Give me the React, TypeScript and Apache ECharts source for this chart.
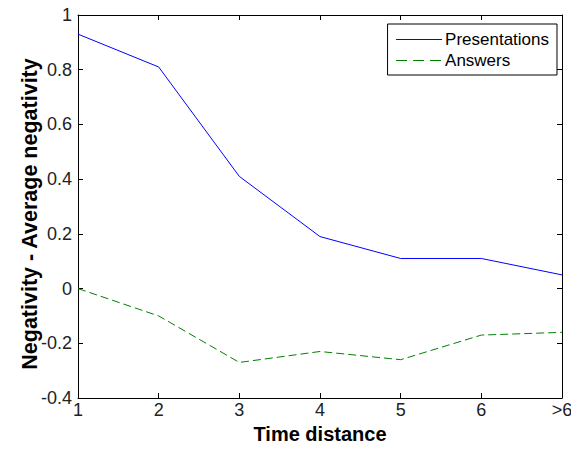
import React, { useEffect, useRef } from "react";
import * as echarts from "echarts";

const categories = ["1", "2", "3", "4", "5", "6", ">6"];
const presentations = [0.93, 0.81, 0.41, 0.19, 0.11, 0.11, 0.05];
const answers = [0.0, -0.1, -0.27, -0.23, -0.26, -0.17, -0.16];
const yTicks = { min: -0.4, max: 1, interval: 0.2 };

const blue = "#0000ff";
const green = "#008000";

export default function App() {
  const ref = useRef<HTMLDivElement>(null);
  useEffect(() => {
    const chart = echarts.init(ref.current!, null, { renderer: "svg" });
    const font = "Liberation Sans, Arial, sans-serif";
    const axisLine = { show: true, onZero: false, lineStyle: { color: "#000", width: 1 } };
    const tick = { show: true, inside: true, length: 5, lineStyle: { color: "#000" } };
    const labelColor = "#222";
    chart.setOption({
      animation: false,
      backgroundColor: "#fff",
      grid: { left: 78, top: 15, right: 17, bottom: 52, containLabel: false },
      legend: {
        right: 22,
        top: 24,
        orient: "vertical",
        itemWidth: 46,
        itemHeight: 14,
        itemGap: 4,
        padding: [7, 8, 6, 8],
        borderColor: "#000",
        borderWidth: 1,
        borderRadius: 0,
        backgroundColor: "#fff",
        itemStyle: { opacity: 0 },
        textStyle: { fontFamily: font, fontSize: 17, color: "#000", padding: [0, 0, 0, -2] },
        data: [
          { name: "Presentations", lineStyle: { color: blue, width: 1 } },
          { name: "Answers", lineStyle: { color: green, width: 1, type: [11, 6] } },
        ],
      },
      xAxis: [
        {
          type: "category",
          data: categories,
          boundaryGap: false,
          axisLine,
          axisTick: { ...tick, alignWithLabel: true },
          axisLabel: { fontFamily: font, fontSize: 18, color: labelColor, margin: 3 },
          splitLine: { show: false },
          name: "Time distance",
          nameLocation: "middle",
          nameGap: 26,
          nameMoveOverlap: false,
          nameTextStyle: { fontFamily: font, fontSize: 20, fontWeight: "bold", color: "#000" },
        },
        {
          type: "category",
          data: categories,
          position: "top",
          boundaryGap: false,
          axisLine,
          axisTick: tick,
          axisLabel: { show: false },
        },
      ],
      yAxis: [
        {
          type: "value",
          min: yTicks.min,
          max: yTicks.max,
          interval: yTicks.interval,
          axisLine,
          axisTick: tick,
          splitLine: { show: false },
          axisLabel: {
            fontFamily: font,
            fontSize: 18,
            color: labelColor,
            margin: 6,
            formatter: (v: number) => String(Math.round(v * 10) / 10),
          },
          name: "Negativity - Average negativity",
          nameLocation: "middle",
          nameGap: 37,
          nameMoveOverlap: false,
          nameTextStyle: {
            fontFamily: font,
            fontSize: 21.5,
            fontWeight: "bold",
            color: "#000",
            padding: [0, 15, 0, 0],
          },
        },
        {
          type: "value",
          position: "right",
          min: yTicks.min,
          max: yTicks.max,
          interval: yTicks.interval,
          axisLine,
          axisTick: tick,
          splitLine: { show: false },
          axisLabel: { show: false },
        },
      ],
      series: [
        {
          name: "Presentations",
          type: "line",
          data: presentations,
          symbol: "none",
          lineStyle: { color: blue, width: 1 },
          itemStyle: { color: blue },
        },
        {
          name: "Answers",
          type: "line",
          data: answers,
          symbol: "none",
          lineStyle: { color: green, width: 1, type: [8, 4] },
          itemStyle: { color: green },
        },
      ],
    });
    return () => chart.dispose();
  }, []);
  return <div ref={ref} style={{ width: 579, height: 450, margin: -8 }} />;
}
